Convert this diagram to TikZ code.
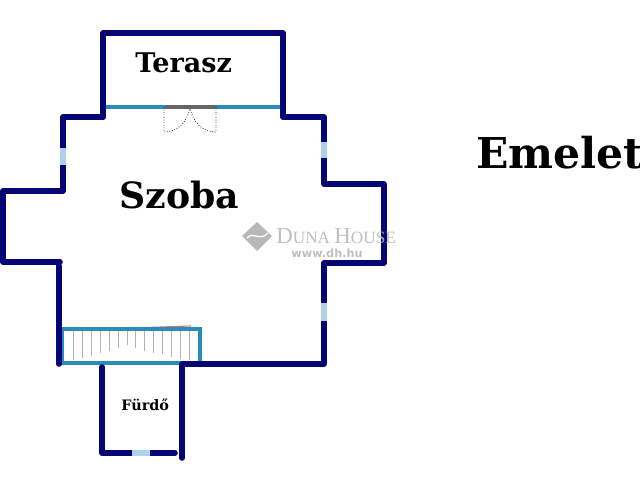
\documentclass[tikz,border=0pt]{standalone}
\usepackage{fontspec}
\setmainfont{DejaVu Serif}
\setsansfont{DejaVu Sans}
\newfontfamily\logofont{Liberation Serif}
\usetikzlibrary{positioning}
\definecolor{mwall}{rgb}{0.02, 0.02, 0.45}
\definecolor{mglass}{rgb}{0.68, 0.82, 0.91}
\definecolor{mline}{rgb}{0.17, 0.55, 0.73}
\definecolor{mstair}{rgb}{0.72, 0.68, 0.72}
\definecolor{mlogo}{rgb}{0.72, 0.72, 0.72}
\tikzset{
    wall/.style={mwall, line width=3.2pt, line join=round, line cap=round},
    glass/.style={mglass, line width=3.2pt},
    rail/.style={mline, line width=1.8pt},
    tread/.style={mstair, line width=0.5pt},
    swing/.style={black!85, densely dotted, line width=0.45pt},
    label/.style={font=\bfseries\fontsize{#1}{#1}\selectfont, inner sep=0pt}
}

\begin{document}
\begin{tikzpicture}[x=0.02cm, y=-0.02cm]
    \useasboundingbox (0, 0) rectangle (640, 480);

    \draw [red!40!mstair, line width=0.6pt] (130, 328) -- (191, 326);
    \draw [red!50!mstair, line width=0.8pt] (63, 331) -- (63, 362);

    \foreach \x/\y in {73/360, 82/358, 91/356, 100/353, 109/351, 118/348, 127/345, 135/348, 144/351, 153/353, 162/354, 171/357, 180/359, 189/360} {
        \draw [tread] (\x, 330) -- (\x, \y);
    }

    \draw [rail] (62, 329) rectangle (200, 363);
    \draw [rail] (105, 107) -- (281, 107);
    \draw [black!60, line width=1.8pt] (165, 107) -- (215, 107);

    \draw [swing] (164, 107) -- (164, 132) .. controls (178, 132) and (187, 122) .. (190, 108);
    \draw [swing] (216, 107) -- (216, 132) .. controls (202, 132) and (193, 122) .. (190, 108);

    \draw [wall] (103, 117) -- (103, 33) -- (283, 33) -- (283, 117) -- (324, 117) -- (324, 184) -- (384, 184) -- (384, 263) -- (324, 263) -- (324, 364) -- (182, 364) -- (182, 458);
    \draw [wall] (103, 117) -- (63, 117) -- (63, 191) -- (3, 191) -- (3, 262) -- (60, 262);
    \draw [wall] (59, 266) -- (59, 364);
    \draw [wall] (102, 367) -- (102, 453) -- (175, 453);

    \draw [glass] (63, 148) -- (63, 165);
    \draw [glass] (324, 142) -- (324, 158);
    \draw [glass] (324, 303) -- (324, 321);
    \draw [glass] (132, 453) -- (150, 453);

    \node [label=15.4pt, anchor=west] (terasz) at (135, 63) {Terasz};
    \node [label=20.6pt, anchor=west] (szoba) at (119, 195) {Szoba};
    \node [label=8.2pt, anchor=west] (furdo) at (121, 405) {Fürdő};
    \node [label=24.2pt, anchor=west] (emelet) at (476, 153) {Emelet};

    \fill [mlogo] (257, 222) -- (272, 236) -- (257, 251) -- (242, 236) -- cycle;
    \draw [white, line width=0.7pt] (247, 238) .. controls (253, 231) and (260, 242) .. (268, 233);
    \node [anchor=west, inner sep=0pt, text=mlogo, opacity=0.9, font=\logofont] (duna) at (276, 236) {\fontsize{13}{14}\selectfont D\fontsize{9.8}{14}\selectfont UNA \fontsize{13}{14}\selectfont H\fontsize{9.8}{14}\selectfont OUSE};
    \node [anchor=north, inner sep=0pt, text=mlogo, opacity=0.9, font=\sffamily\bfseries\fontsize{6.4}{7}\selectfont] (www) at (327, 249) {www.dh.hu};
\end{tikzpicture}
\end{document}
